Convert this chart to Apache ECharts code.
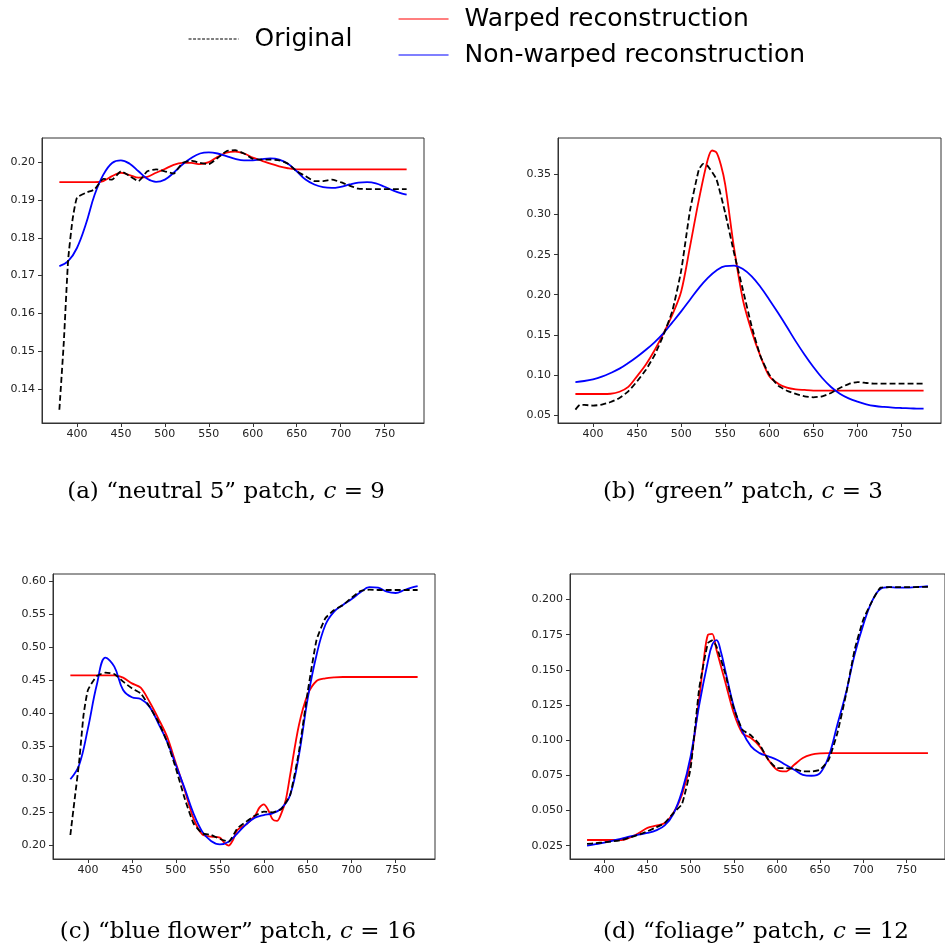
<!DOCTYPE html>
<html>
<head>
<meta charset="utf-8">
<script src="https://cdn.jsdelivr.net/npm/echarts@6/dist/echarts.min.js"></script>
<style>html,body{margin:0;padding:0;background:#fff}#c{width:945px;height:947px}</style>
</head>
<body>
<div id="c"></div>
<script>
// ---------- data ----------
const X_TICKS = [400, 450, 500, 550, 600, 650, 700, 750];
const Y_TICKS_A = [0.14, 0.15, 0.16, 0.17, 0.18, 0.19, 0.20];
const Y_TICKS_B = [0.05, 0.10, 0.15, 0.20, 0.25, 0.30, 0.35];
const Y_TICKS_C = [0.20, 0.25, 0.30, 0.35, 0.40, 0.45, 0.50, 0.55, 0.60];
const Y_TICKS_D = [0.025, 0.050, 0.075, 0.100, 0.125, 0.150, 0.175, 0.200];

const WL10 = [380,390,400,410,420,430,440,450,460,470,480,490,500,510,520,530,540,550,560,570,580,590,600,610,620,630,640,650,660,670,680,690,700,710,720,730,740,750,760,770,775];
const WL_START5 = [380,385,390,395,400,410,420,430,440,450,460,470,480,490,500,510,520,530,540,550,560,570,580,590,600,610,620,630,640,650,660,670,680,690,700,710,720,730,740,750,760,770,775];

// (a) neutral 5
const A_ORIG = [0.1345,0.1522,0.1742,0.1848,0.1906,0.1919,0.1928,0.1956,0.1954,0.1976,0.1963,0.1950,0.1976,0.1981,0.1976,0.1970,0.1998,0.2004,0.1998,0.1995,0.2011,0.2029,0.2032,0.2023,0.2009,0.2007,0.2007,0.2005,0.1996,0.1976,0.1963,0.1950,0.1950,0.1954,0.1947,0.1938,0.1930,0.1929,0.1929,0.1929,0.1929,0.1929,0.1929];
const A_WARP = [0.1947,0.1947,0.1947,0.1947,0.1947,0.1950,0.1963,0.1972,0.1966,0.1959,0.1961,0.1972,0.1982,0.1993,0.1998,0.1998,0.1995,0.2000,0.2014,0.2025,0.2028,0.2023,0.2012,0.2004,0.1996,0.1989,0.1984,0.1981,0.1981,0.1981,0.1981,0.1981,0.1981,0.1981,0.1981,0.1981,0.1981,0.1981,0.1981,0.1981,0.1981];
const A_NONW = [0.1725,0.1738,0.1773,0.1835,0.1913,0.1967,0.1998,0.2005,0.1996,0.1976,0.1956,0.1948,0.1954,0.1972,0.1994,0.2011,0.2023,0.2026,0.2023,0.2016,0.2009,0.2005,0.2005,0.2008,0.2010,0.2007,0.1996,0.1976,0.1954,0.1941,0.1934,0.1932,0.1935,0.1941,0.1946,0.1947,0.1944,0.1935,0.1925,0.1917,0.1914];

// (b) green
const WL_B_ORIG = [380,385,390,400,410,420,430,440,450,460,470,480,490,500,510,520,525,530,540,550,560,570,580,590,600,610,620,630,640,650,660,670,680,690,700,710,720,730,740,750,760,770,775];
const B_ORIG = [0.0567,0.0625,0.0625,0.0617,0.0629,0.0662,0.0712,0.0795,0.0920,0.1065,0.1250,0.1500,0.1800,0.2300,0.3050,0.3558,0.3633,0.3608,0.3440,0.3018,0.2520,0.2062,0.1605,0.1231,0.1003,0.0866,0.0803,0.0762,0.0733,0.0720,0.0733,0.0774,0.0837,0.0886,0.0911,0.0899,0.0890,0.0890,0.0890,0.0890,0.0890,0.0890,0.0890];
const WL_B_WARP = [380,390,400,410,420,430,440,450,460,470,480,490,500,510,520,530,535,540,545,550,560,570,580,590,600,610,620,630,640,650,660,670,680,690,700,710,720,730,740,750,760,770,775];
const B_WARP = [0.0762,0.0762,0.0762,0.0762,0.0765,0.0790,0.0850,0.0985,0.1130,0.1310,0.1520,0.1750,0.2040,0.2600,0.3180,0.3680,0.3799,0.3774,0.3620,0.3371,0.2580,0.1938,0.1543,0.1231,0.0982,0.0891,0.0841,0.0820,0.0812,0.0805,0.0803,0.0803,0.0803,0.0803,0.0803,0.0803,0.0803,0.0803,0.0803,0.0803,0.0803,0.0803,0.0803];
const B_NONW = [0.0911,0.0924,0.0945,0.0978,0.1024,0.1078,0.1148,0.1227,0.1314,0.1410,0.1522,0.1655,0.1792,0.1938,0.2083,0.2208,0.2303,0.2357,0.2362,0.2320,0.2229,0.2096,0.1938,0.1771,0.1597,0.1418,0.1252,0.1098,0.0961,0.0849,0.0766,0.0708,0.0666,0.0633,0.0612,0.0600,0.0592,0.0587,0.0583,0.0579,0.0579];

// (c) blue flower
const C_ORIG = [0.2161,0.2715,0.3269,0.3975,0.4353,0.4564,0.4615,0.4594,0.4479,0.4378,0.4302,0.4101,0.3874,0.3572,0.3169,0.2715,0.2338,0.2186,0.2161,0.2101,0.2060,0.2262,0.2363,0.2453,0.2514,0.2504,0.2554,0.2766,0.3421,0.4327,0.5108,0.5436,0.5562,0.5637,0.5748,0.5849,0.5869,0.5864,0.5864,0.5864,0.5864,0.5864,0.5864];
const WL_C_WARP = [380,390,400,410,420,430,440,450,460,470,480,490,500,510,520,530,540,550,555,560,565,570,580,590,595,600,605,610,615,620,625,630,640,650,660,670,680,690,700,710,720,730,740,750,760,770,775];
const C_WARP = [0.4574,0.4574,0.4574,0.4574,0.4574,0.4574,0.4539,0.4453,0.4388,0.4176,0.3924,0.3647,0.3244,0.2841,0.2413,0.2171,0.2136,0.2121,0.2045,0.2000,0.2086,0.2237,0.2322,0.2453,0.2574,0.2625,0.2539,0.2398,0.2373,0.2489,0.2690,0.3068,0.3824,0.4287,0.4489,0.4529,0.4544,0.4549,0.4549,0.4549,0.4549,0.4549,0.4549,0.4549,0.4549,0.4549,0.4549];
const C_NONW = [0.3003,0.3219,0.3773,0.4428,0.4841,0.4705,0.4353,0.4242,0.4217,0.4101,0.3849,0.3572,0.3219,0.2866,0.2489,0.2212,0.2071,0.2020,0.2060,0.2186,0.2322,0.2423,0.2463,0.2489,0.2564,0.2766,0.3370,0.4227,0.4882,0.5335,0.5537,0.5637,0.5728,0.5829,0.5909,0.5899,0.5839,0.5819,0.5864,0.5909,0.5924];

// (d) foliage
const WL_D_ORIG = [380,390,400,410,420,430,440,450,460,470,480,490,500,510,520,525,530,540,550,560,570,580,590,600,610,620,630,640,650,660,670,680,690,700,710,720,730,740,750,760,770,775];
const D_ORIG = [0.0262,0.0267,0.0274,0.0281,0.0290,0.0309,0.0328,0.0352,0.0380,0.0411,0.0482,0.0546,0.0802,0.1370,0.1690,0.1709,0.1666,0.1477,0.1228,0.1074,0.1034,0.0968,0.0861,0.0802,0.0802,0.0797,0.0778,0.0778,0.0790,0.0861,0.1050,0.1323,0.1642,0.1856,0.1986,0.2085,0.2088,0.2088,0.2088,0.2089,0.2090,0.2090];
const WL_D_WARP = [380,390,400,410,420,430,440,450,460,470,480,490,500,510,515,520,525,530,540,550,560,570,580,590,600,610,620,630,640,650,660,670,680,690,700,710,720,730,740,750,760,770,775];
const D_WARP = [0.0290,0.0290,0.0290,0.0290,0.0290,0.0309,0.0340,0.0376,0.0392,0.0411,0.0482,0.0612,0.0849,0.1299,0.1560,0.1749,0.1756,0.1642,0.1417,0.1193,0.1050,0.1015,0.0956,0.0861,0.0790,0.0778,0.0825,0.0873,0.0897,0.0906,0.0908,0.0908,0.0908,0.0908,0.0908,0.0908,0.0908,0.0908,0.0908,0.0908,0.0908,0.0908,0.0908];
const WL_D_NONW = [380,390,400,410,420,430,440,450,460,470,480,490,500,510,520,525,530,535,540,550,560,570,580,590,600,610,620,630,640,650,660,670,680,690,700,710,720,730,740,750,760,770,775];
const D_NONW = [0.0250,0.0260,0.0271,0.0286,0.0300,0.0316,0.0328,0.0340,0.0359,0.0394,0.0475,0.0636,0.0885,0.1252,0.1560,0.1678,0.1711,0.1631,0.1500,0.1240,0.1062,0.0956,0.0908,0.0885,0.0861,0.0825,0.0790,0.0754,0.0747,0.0766,0.0885,0.1110,0.1335,0.1607,0.1820,0.1986,0.2076,0.2088,0.2085,0.2085,0.2088,0.2092,0.2095];

const NAME_O = 'Original', NAME_W = 'Warped reconstruction', NAME_N = 'Non-warped reconstruction';
const CAPTIONS = [
  '(a) \u201cneutral 5\u201d patch, {i|c} = 9',
  '(b) \u201cgreen\u201d patch, {i|c} = 3',
  '(c) \u201cblue flower\u201d patch, {i|c} = 16',
  '(d) \u201cfoliage\u201d patch, {i|c} = 12'
];

// ---------- layout ----------
const panels = [
  {grid:{left:42,top:138,width:382,height:285}, ymin:0.1310, ymax:0.2064, yt:Y_TICKS_A, dec:2,
   s:[[WL_START5,A_ORIG],[WL10,A_WARP],[WL10,A_NONW]]},
  {grid:{left:558,top:138,width:383,height:285}, ymin:0.0400, ymax:0.3955, yt:Y_TICKS_B, dec:2,
   s:[[WL_B_ORIG,B_ORIG],[WL_B_WARP,B_WARP],[WL10,B_NONW]]},
  {grid:{left:53,top:574,width:382,height:285}, ymin:0.1798, ymax:0.6106, yt:Y_TICKS_C, dec:2,
   s:[[WL_START5,C_ORIG],[WL_C_WARP,C_WARP],[WL10,C_NONW]]},
  {grid:{left:570,top:574,width:384,height:285}, ymin:0.0155, ymax:0.2182, yt:Y_TICKS_D, dec:3,
   s:[[WL_D_ORIG,D_ORIG],[WL_D_WARP,D_WARP],[WL_D_NONW,D_NONW]]}
];
const CAP_POS = [[226,492],[743,492],[238,932],[756,932]];

const pairs = (xs, ys) => xs.map((x, i) => [x, ys[i]]);
const axisCol = '#333', labCol = '#222';

const grids = [], xAxes = [], yAxes = [], series = [];
panels.forEach((p, i) => {
  grids.push(Object.assign({show:true, borderColor:axisCol, borderWidth:1, containLabel:false}, p.grid));
  xAxes.push({
    type:'value', gridIndex:i, min:360.25, max:794.75,
    axisLine:{show:true, lineStyle:{color:axisCol, width:1}},
    axisTick:{show:true, length:4, inside:false, customValues:X_TICKS, lineStyle:{color:axisCol}},
    axisLabel:{show:true, customValues:X_TICKS, margin:6, color:labCol, fontSize:11, fontFamily:'DejaVu Sans'},
    splitLine:{show:false}
  });
  yAxes.push({
    type:'value', gridIndex:i, min:p.ymin, max:p.ymax,
    axisLine:{show:true, lineStyle:{color:axisCol, width:1}},
    axisTick:{show:true, length:4, inside:false, customValues:p.yt, lineStyle:{color:axisCol}},
    axisLabel:{show:true, customValues:p.yt, margin:7, color:labCol, fontSize:11, fontFamily:'DejaVu Sans',
      formatter:(v)=>v.toFixed(p.dec)},
    splitLine:{show:false}
  });
  const defs = [
    {name:NAME_W, color:'#ff0000', type:'solid', smooth:0.3, z:3},
    {name:NAME_N, color:'#0000ff', type:'solid', smooth:0.4, z:4},
    {name:NAME_O, color:'#000000', type:[6,3], smooth:0.15, z:5}
  ];
  const idx = {[NAME_O]:0, [NAME_W]:1, [NAME_N]:2};
  defs.forEach(d => {
    const sd = p.s[idx[d.name]];
    series.push({
      type:'line', name:d.name, xAxisIndex:i, yAxisIndex:i,
      data:pairs(sd[0], sd[1]), symbol:'none', showSymbol:false,
      smooth:d.smooth, z:d.z,
      lineStyle:{color:d.color, width:1.8, type:d.type},
      itemStyle:{color:d.color}, animation:false, silent:true
    });
  });
});

const legendBase = {
  orient:'horizontal', itemWidth:50, itemHeight:14, selectedMode:false,
  itemStyle:{opacity:0},
  textStyle:{fontSize:25, fontFamily:'DejaVu Sans', color:'#000', lineHeight:28, padding:[0,0,0,11]}
};
const legends = [
  Object.assign({}, legendBase, {data:[{name:NAME_O, itemStyle:{opacity:0}, lineStyle:{type:[3,1.5], width:1.1}}], left:183, top:20}),
  Object.assign({}, legendBase, {data:[{name:NAME_W, itemStyle:{opacity:0}, lineStyle:{width:1.1}}], left:393, top:0}),
  Object.assign({}, legendBase, {data:[{name:NAME_N, itemStyle:{opacity:0}, lineStyle:{width:1.1}}], left:393, top:36})
];

const graphics = CAPTIONS.map((t, i) => ({
  type:'text', x:CAP_POS[i][0], y:CAP_POS[i][1], silent:true,
  style:{text:t, fill:'#000', fontSize:23, fontFamily:'DejaVu Serif', align:'center', verticalAlign:'middle',
    rich:{i:{fontStyle:'italic', fontSize:23, fontFamily:'DejaVu Serif', fill:'#000'}}}
}));

const chart = echarts.init(document.getElementById('c'), null, {renderer:'canvas'});
chart.setOption({
  animation:false, backgroundColor:'#fff',
  grid:grids, xAxis:xAxes, yAxis:yAxes, series:series,
  legend:legends, graphic:graphics
});
</script>
</body>
</html>
